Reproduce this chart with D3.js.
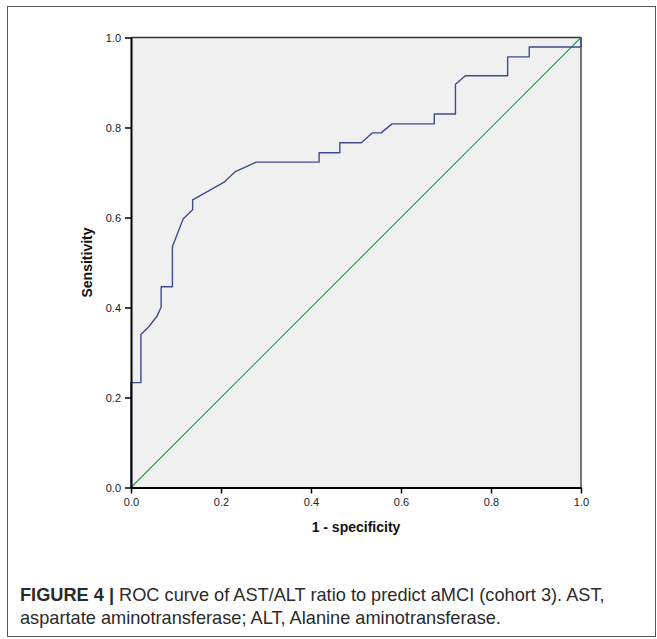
<!DOCTYPE html>
<html><head><meta charset="utf-8">
<script src="https://cdn.jsdelivr.net/npm/d3@7/dist/d3.min.js"></script>
<style>
html,body{margin:0;padding:0;background:#fff;}
svg{display:block;}
</style></head>
<body>
<svg id="chart" width="657" height="639"></svg>
<script>
// Data
const fpr = [0,0,0.022,0.022,0.041,0.058,0.067,0.067,0.092,0.092,0.116,0.137,0.137,0.206,0.232,0.278,0.418,0.418,0.464,0.464,0.512,0.536,0.556,0.580,0.674,0.674,0.721,0.721,0.743,0.837,0.837,0.885,0.885,1.0,1.0];
const tpr = [0,0.233,0.233,0.34,0.359,0.381,0.401,0.446,0.446,0.535,0.597,0.617,0.639,0.678,0.702,0.723,0.723,0.744,0.744,0.766,0.766,0.788,0.788,0.808,0.808,0.83,0.83,0.896,0.915,0.915,0.957,0.957,0.979,0.979,1.0];
const refX = [0,1];
const refY = [0,1];
const tickValues = [0,0.2,0.4,0.6,0.8,1.0];
const xTitle = "1 - specificity";
const yTitle = "Sensitivity";
const captionBold = "FIGURE 4 |";
const captionLine1 = " ROC curve of AST/ALT ratio to predict aMCI (cohort 3). AST,";
const captionLine2 = "aspartate aminotransferase; ALT, Alanine aminotransferase.";

const svg = d3.select("#chart");

// outer frame
svg.append("rect").attr("x",7.5).attr("y",6.5).attr("width",648).attr("height",630)
  .attr("fill","none").attr("stroke","#555").attr("stroke-width",1);

const m = {left:131, top:37.5, w:450, h:450};
const x = d3.scaleLinear().domain([0,1]).range([m.left, m.left+m.w]);
const y = d3.scaleLinear().domain([0,1]).range([m.top+m.h, m.top]);

// plot background
svg.append("rect").attr("x",x(0)).attr("y",y(1)).attr("width",x(1)-x(0)).attr("height",y(0)-y(1))
  .attr("fill","#f0f0f0");

// top and right frame of plot
svg.append("path")
  .attr("d",`M${x(0)},${y(1)}H${x(1)}V${y(0)}`)
  .attr("fill","none").attr("stroke","#333").attr("stroke-width",1.3);

// reference diagonal
const line = d3.line().x(d=>x(d[0])).y(d=>y(d[1]));
svg.append("path").datum(refX.map((v,i)=>[v,refY[i]]))
  .attr("d",line).attr("fill","none").attr("stroke","#2e9e55").attr("stroke-width",1.2);

// ROC curve
svg.append("path").datum(fpr.map((v,i)=>[v,tpr[i]]))
  .attr("d",line).attr("fill","none").attr("stroke","#3d4d8c").attr("stroke-width",1.4)
  .attr("stroke-linejoin","round");

const fmt = d3.format(".1f");
const xAxis = svg.append("g").attr("transform",`translate(0,${y(0)})`)
  .call(d3.axisBottom(x).tickValues(tickValues).tickFormat(fmt).tickSize(6).tickSizeOuter(0));
const yAxis = svg.append("g").attr("transform",`translate(${x(0)},0)`)
  .call(d3.axisLeft(y).tickValues(tickValues).tickFormat(fmt).tickSize(6).tickSizeOuter(0));

[xAxis,yAxis].forEach(g=>{
  g.select(".domain").attr("stroke","#000").attr("stroke-width",2);
  g.selectAll(".tick line").attr("stroke","#000").attr("stroke-width",1.5);
  g.selectAll(".tick text").attr("fill","#222")
    .style("font-family","'Liberation Sans', Arial, sans-serif").style("font-size","11px");
});
xAxis.selectAll(".tick text").attr("dy","0.9em").attr("y",9);
yAxis.selectAll(".tick text").attr("x",-10);

// axis titles
svg.append("text").attr("x",(x(0)+x(1))/2).attr("y",532)
  .attr("text-anchor","middle").attr("fill","#111")
  .style("font-family","'Liberation Sans', Arial, sans-serif").style("font-size","14px").style("font-weight","bold")
  .text(xTitle);
svg.append("text").attr("transform",`translate(92,${(y(0)+y(1))/2}) rotate(-90)`)
  .attr("text-anchor","middle").attr("fill","#111")
  .style("font-family","'Liberation Sans', Arial, sans-serif").style("font-size","14px").style("font-weight","bold")
  .text(yTitle);

// caption
const capFont = "'Liberation Sans', Arial, sans-serif";
const cap1 = svg.append("text").attr("x",20).attr("y",601).attr("fill","#2a2a2a")
  .style("font-family",capFont).style("font-size","15px");
cap1.append("tspan").style("font-weight","bold").text(captionBold);
cap1.append("tspan").text(captionLine1);
const cap2 = svg.append("text").attr("x",20).attr("y",624).attr("fill","#2a2a2a")
  .style("font-family",capFont).style("font-size","15px").text(captionLine2);
// fit caption line 1 to the reference width
const targetW = 585;
const w1 = cap1.node().getComputedTextLength();
const fs = 15*targetW/w1;
cap1.style("font-size",fs+"px");
cap2.style("font-size",fs+"px");
</script>
</body></html>
